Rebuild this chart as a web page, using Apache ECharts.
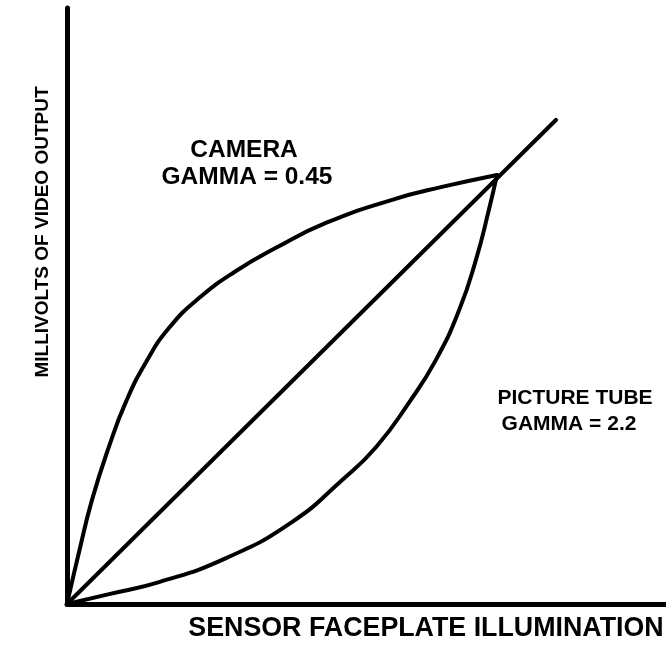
<!DOCTYPE html>
<html>
<head>
<meta charset="utf-8">
<script src="https://cdn.jsdelivr.net/npm/echarts@6/dist/echarts.min.js"></script>
<style>
  html, body { margin: 0; padding: 0; background: #fff; }
  #chart { width: 666px; height: 655px; }
</style>
</head>
<body>
<div id="chart"></div>
<script>
// Illumination (x) vs. video output (y), both normalised so the
// camera and picture-tube curves meet at (1, 1).
const cameraCurve = [
  [0, 0], [0.028, 0.121], [0.058, 0.242], [0.098, 0.368], [0.137, 0.471],
  [0.184, 0.564], [0.237, 0.643], [0.307, 0.713], [0.393, 0.776],
  [0.486, 0.830], [0.602, 0.888], [0.756, 0.942], [0.872, 0.972], [1, 1]
];
const pictureTubeCurve = [
  [0, 0], [0.098, 0.023], [0.214, 0.051], [0.370, 0.107], [0.523, 0.191],
  [0.640, 0.289], [0.719, 0.366], [0.795, 0.469], [0.858, 0.569],
  [0.912, 0.685], [0.951, 0.802], [0.981, 0.918], [1, 1]
];
const linearResponse = [[0, 0], [1.137, 1.128]];

const axisTitles = {
  x: 'SENSOR FACEPLATE ILLUMINATION',
  y: 'MILLIVOLTS OF VIDEO OUTPUT'
};
const curveLabels = {
  camera: ['CAMERA', 'GAMMA = 0.45'],
  tube: ['PICTURE TUBE', 'GAMMA = 2.2']
};

const FONT = '"Liberation Sans", Arial, sans-serif';
const ink = '#000';

function lineSeries(data, smooth) {
  return {
    type: 'line',
    data: data,
    smooth: smooth,
    showSymbol: false,
    silent: true,
    lineStyle: { color: ink, width: 4, cap: 'round', join: 'round' },
    z: 3
  };
}

function label(text, x, y, size) {
  return {
    type: 'text', x: x, y: y,
    style: {
      text: text, fill: ink, font: 'bold ' + size + 'px ' + FONT,
      align: 'center', verticalAlign: 'middle'
    }
  };
}

const valueAxis = (max) => ({
  type: 'value', min: 0, max: max,
  axisLine: { show: true, onZero: false, lineStyle: { color: ink, width: 5 } },
  axisTick: { show: false },
  axisLabel: { show: false },
  splitLine: { show: false }
});

const chart = echarts.init(document.getElementById('chart'), null, { renderer: 'canvas' });
chart.setOption({
  animation: false,
  backgroundColor: '#fff',
  grid: { left: 67, top: 8, right: 0, bottom: 51, containLabel: false },
  xAxis: valueAxis(1.393),
  yAxis: valueAxis(1.389),
  series: [
    lineSeries(cameraCurve, 0.5),
    lineSeries(pictureTubeCurve, 0.5),
    lineSeries(linearResponse, false)
  ],
  graphic: [
    label(curveLabels.camera[0], 244, 150, 24.5),
    label(curveLabels.camera[1], 247, 177, 24.5),
    label(curveLabels.tube[0], 575, 398, 21),
    label(curveLabels.tube[1], 569, 424, 21),
    label(axisTitles.x, 426, 629, 26.8),
    {
      type: 'text', x: 43, y: 232, rotation: Math.PI / 2,
      style: {
        text: axisTitles.y, fill: ink, font: 'bold 19px ' + FONT,
        align: 'center', verticalAlign: 'middle'
      }
    }
  ]
});
</script>
</body>
</html>
